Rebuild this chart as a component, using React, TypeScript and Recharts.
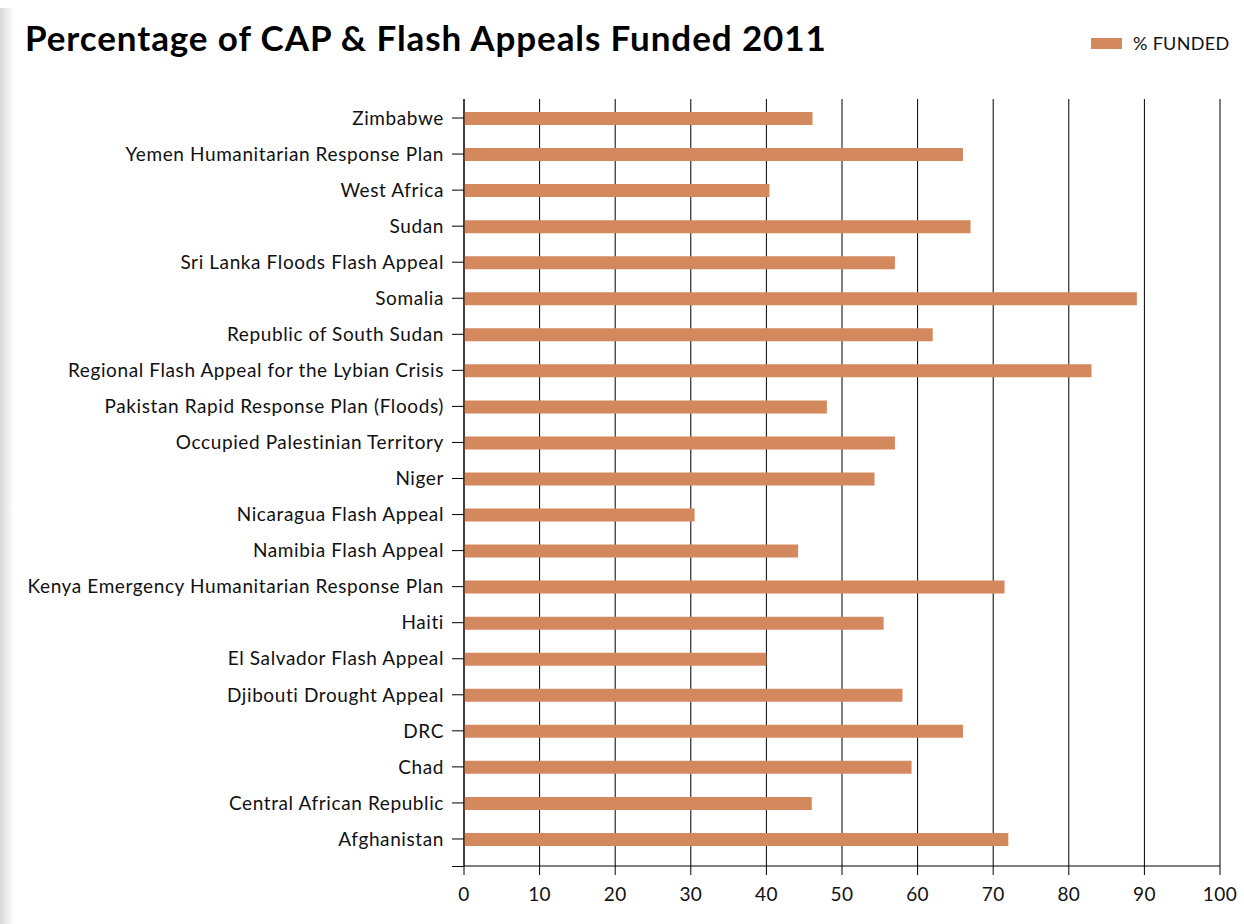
import React from "react";
import { BarChart, Bar, XAxis, YAxis, CartesianGrid, Legend } from "recharts";

const appeals = [
  "Zimbabwe",
  "Yemen Humanitarian Response Plan",
  "West Africa",
  "Sudan",
  "Sri Lanka Floods Flash Appeal",
  "Somalia",
  "Republic of South Sudan",
  "Regional Flash Appeal for the Lybian Crisis",
  "Pakistan Rapid Response Plan (Floods)",
  "Occupied Palestinian Territory",
  "Niger",
  "Nicaragua Flash Appeal",
  "Namibia Flash Appeal",
  "Kenya Emergency Humanitarian Response Plan",
  "Haiti",
  "El Salvador Flash Appeal",
  "Djibouti Drought Appeal",
  "DRC",
  "Chad",
  "Central African Republic",
  "Afghanistan",
];

const funded = [
  46.1, 66, 40.4, 67, 57, 89, 62, 83, 48, 57, 54.3, 30.5, 44.2, 71.5, 55.5,
  40, 58, 66, 59.2, 46, 72,
];

const xTicks = [0, 10, 20, 30, 40, 50, 60, 70, 80, 90, 100];

const data = appeals.map((name, i) => ({ name, funded: funded[i] }));

const FONT = "Lato, 'Open Sans', sans-serif";
const BAR = "#d3885e";

function LegendBox() {
  return (
    <div
      style={{
        position: "absolute",
        left: 1091,
        top: 32,
        display: "flex",
        alignItems: "center",
        fontFamily: FONT,
        fontSize: 18,
        letterSpacing: 0.3,
        color: "#111",
      }}
    >
      <span
        style={{ width: 31, height: 11, background: BAR, marginRight: 11 }}
      />
      % FUNDED
    </div>
  );
}

export default function App() {
  return (
    <div
      style={{
        position: "absolute",
        left: 0,
        top: 0,
        width: 1244,
        height: 924,
        background: "#fff",
        overflow: "hidden",
      }}
    >
      <div
        style={{
          position: "absolute",
          left: 0,
          top: 8,
          width: 14,
          height: 916,
          background: "linear-gradient(to right, #d9d9d9, #ffffff)",
        }}
      />
      <div
        style={{
          position: "absolute",
          left: 25,
          top: 16,
          fontFamily: FONT,
          fontWeight: 700,
          fontSize: 35,
          letterSpacing: 0.9,
          color: "#000",
          whiteSpace: "nowrap",
        }}
      >
        Percentage of CAP &amp; Flash Appeals Funded 2011
      </div>
      <div style={{ position: "absolute", left: 0, top: 0 }}>
        <BarChart
          layout="vertical"
          width={1244}
          height={924}
          data={data}
          margin={{ top: 99, right: 24, bottom: 0, left: 0 }}
        >
          <CartesianGrid
            horizontal={false}
            vertical
            stroke="#000"
            strokeWidth={1}
          />
          <XAxis
            type="number"
            domain={[0, 100]}
            ticks={xTicks}
            interval={0}
            height={58}
            tickSize={9}
            tickMargin={13}
            axisLine={{ stroke: "#000" }}
            tickLine={{ stroke: "#000" }}
            tick={{
              fill: "#111",
              fontSize: 19,
              fontFamily: FONT,
              letterSpacing: 0.4,
            }}
          />
          <YAxis
            type="category"
            dataKey="name"
            width={464}
            interval={0}
            tickSize={12}
            tickMargin={8}
            padding={{ top: 1, bottom: 9 }}
            axisLine={{ stroke: "#000" }}
            tickLine={{ stroke: "#000" }}
            tick={{
              fill: "#111",
              fontSize: 19,
              fontFamily: FONT,
              letterSpacing: 0.6,
            }}
          />
          <Legend content={() => null} />
          <Bar
            dataKey="funded"
            name="% FUNDED"
            fill={BAR}
            barSize={13}
            isAnimationActive={false}
          />
        </BarChart>
      </div>
      <div
        style={{
          position: "absolute",
          left: 452,
          top: 866,
          width: 12,
          height: 1,
          background: "#000",
        }}
      />
      <LegendBox />
    </div>
  );
}
